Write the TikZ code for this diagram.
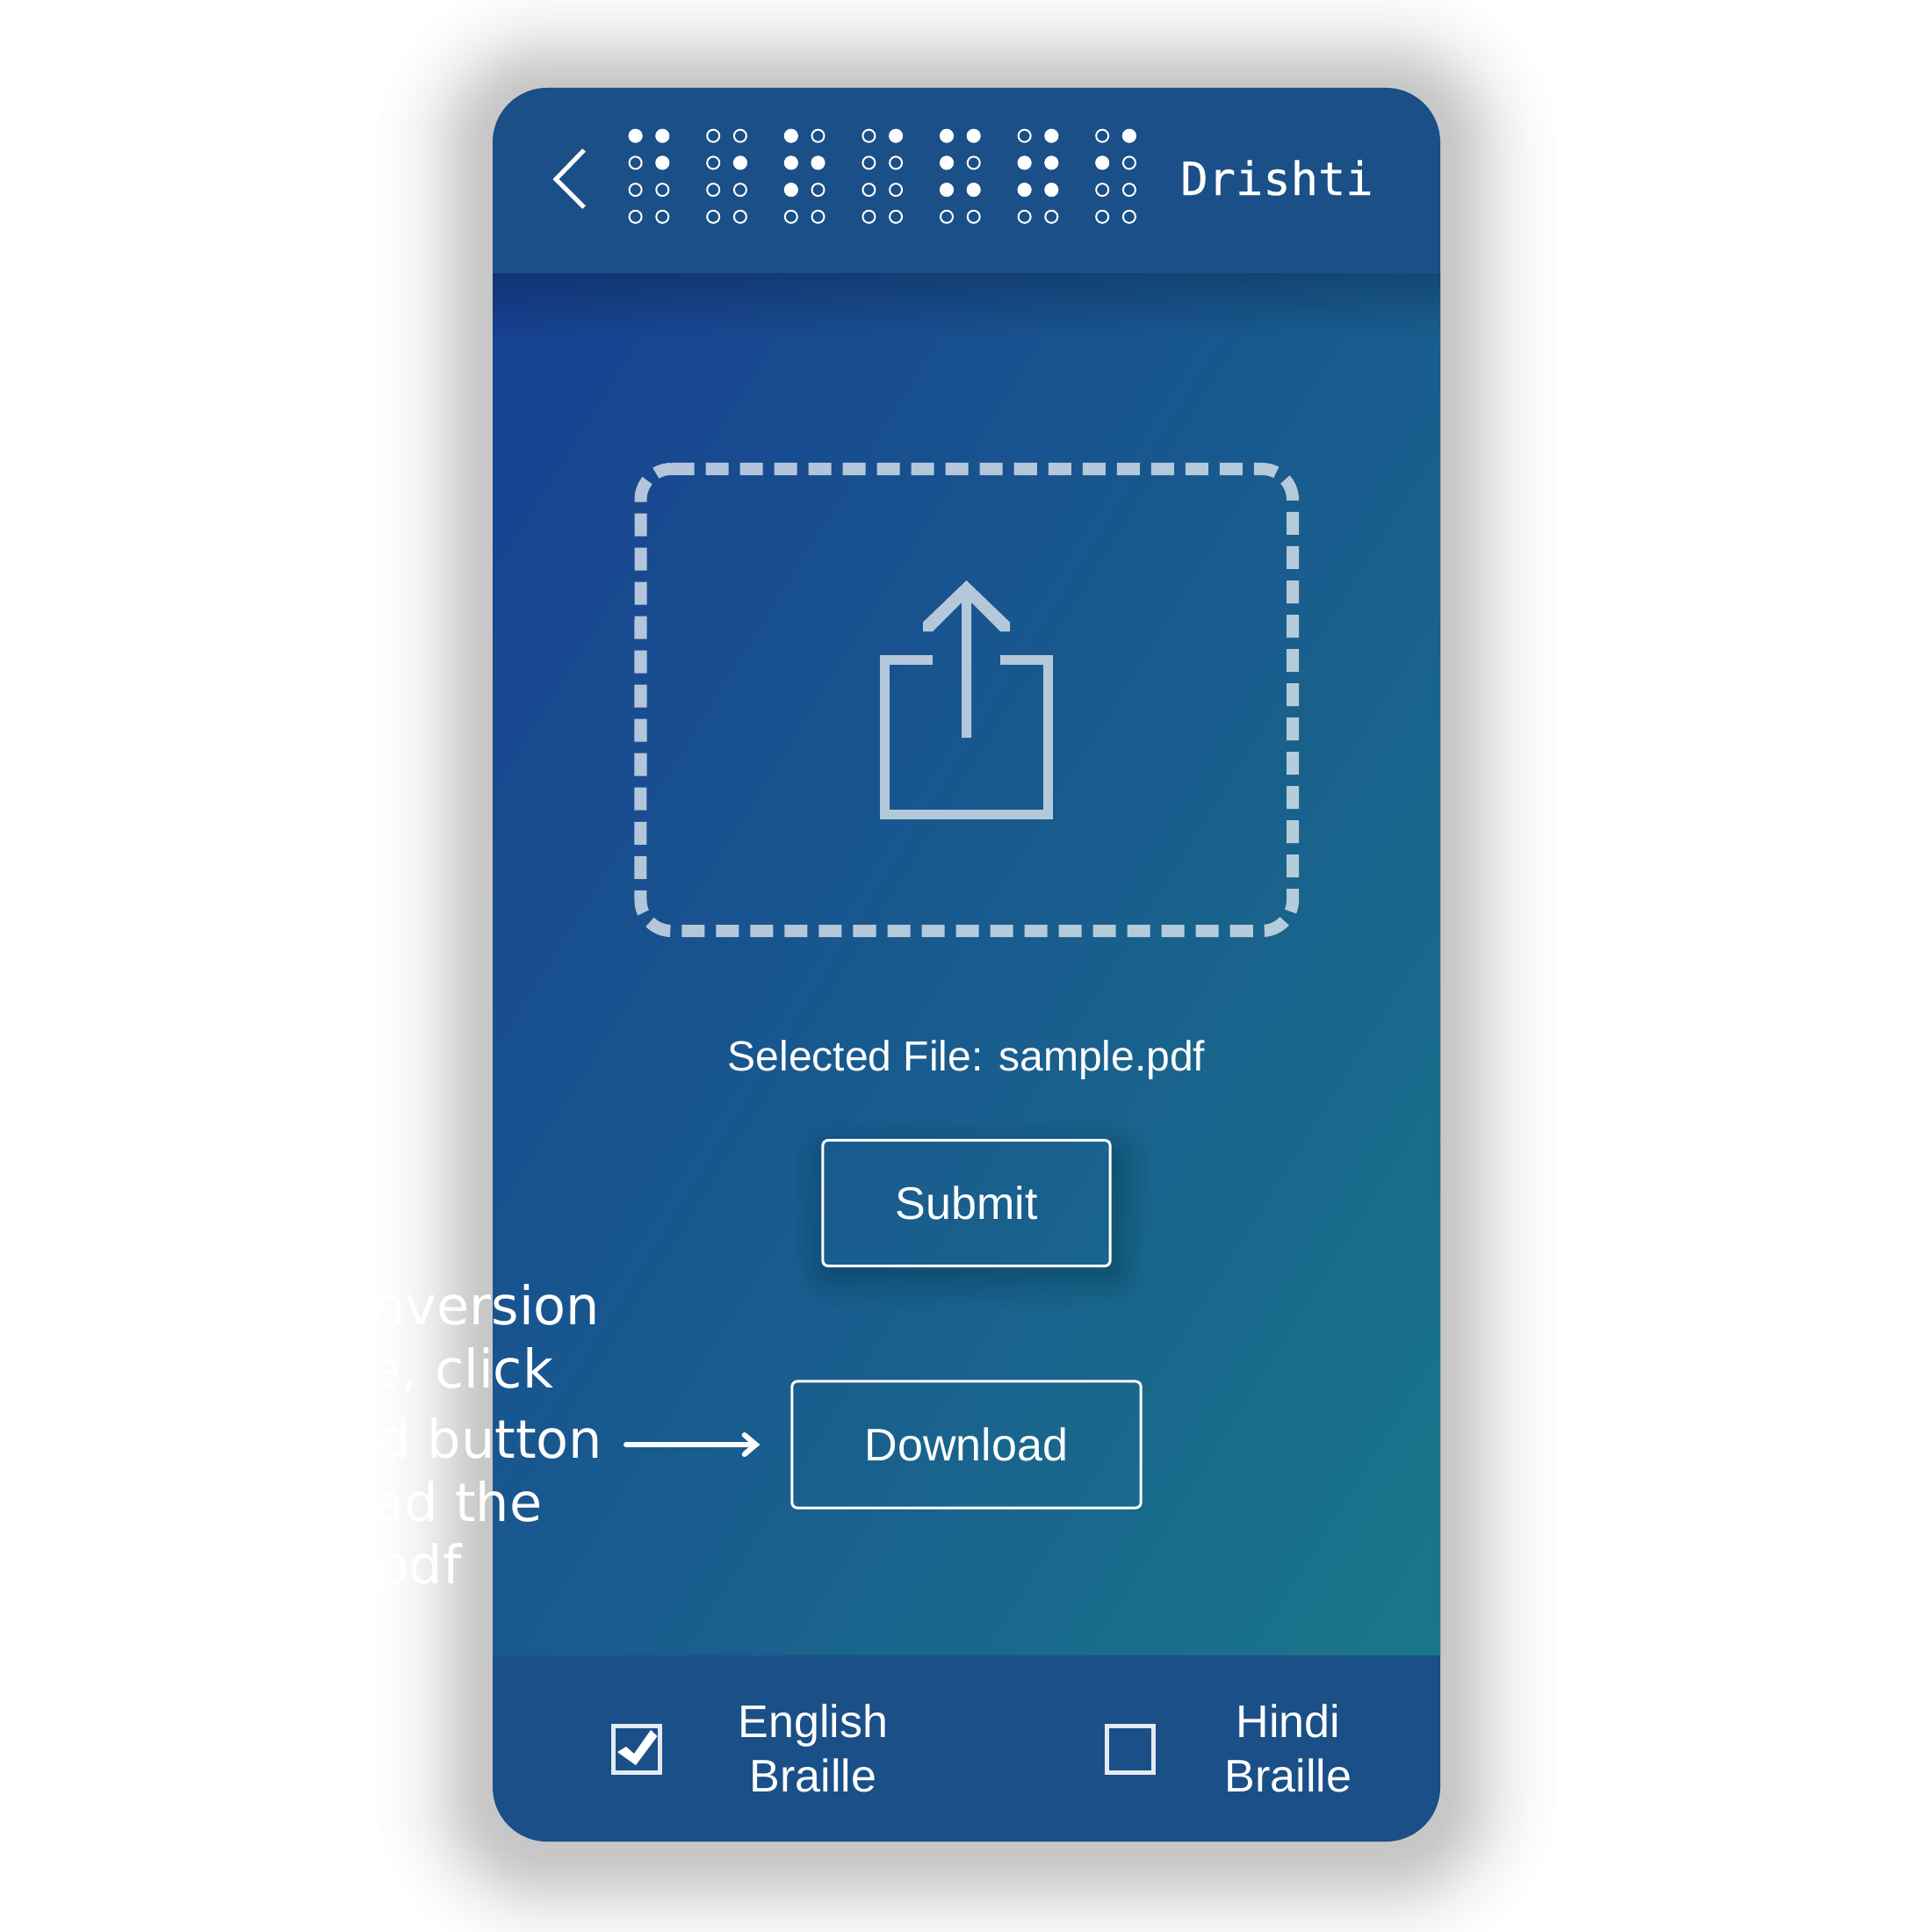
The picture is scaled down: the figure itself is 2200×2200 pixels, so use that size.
\documentclass[tikz,border=0pt]{standalone}
\usepackage{fontspec}
\setmainfont{Liberation Sans}
\newfontfamily\hintfont{DejaVu Sans}
\newfontfamily\brandfont[FakeBold=0.5]{DejaVu Sans Mono}
\usepackage{xcolor}
\usetikzlibrary{arrows.meta,fadings}
\definecolor{barblue}{HTML}{1A4F88}
\definecolor{gradstart}{HTML}{173A92}
\definecolor{gradend}{HTML}{1A7C8A}
\pgfdeclarehorizontalshading{cardgrad}{100bp}{color(0bp)=(gradstart); color(8bp)=(gradstart); color(92bp)=(gradend); color(100bp)=(gradend)}
\tikzfading[name=fadedown, top color=transparent!0, bottom color=transparent!100]
\tikzset{
	dotfull/.style={circle, fill=white, inner sep=0pt, minimum size=0.155cm},
	dotempty/.style={circle, draw=white, line width=0.02cm, inner sep=0pt, minimum size=0.14cm},
	btnnode/.style={rectangle, draw=white, line width=0.03cm, rounded corners=0.06cm, text=white, font=\fontsize{14.8}{17}\selectfont},
	footlabel/.style={align=center, text=white, inner sep=0pt, font=\fontsize{14.8}{17.6}\selectfont},
	hintlabel/.style={anchor=base east, inner sep=0pt, text=white, font=\hintfont\fontsize{17.2}{20}\selectfont},
	ticknode/.style={rectangle, draw=white!88!barblue, line width=0.05cm, minimum width=0.53cm, minimum height=0.53cm},
	iconline/.style={white, opacity=0.68, line width=0.11cm}
}
\begin{document}
\begin{tikzpicture}[x=0.01cm, y=-0.01cm]
		\useasboundingbox (0,0) rectangle (2200,2200);
		
		%Card shadow
		\foreach \d in {132,129,...,0}{
			\pgfmathsetmacro\pct{22*exp(-(\d/70)^2)}
			\pgfmathsetmacro\rad{(62+\d)*0.01}
			\fill[black!\pct!white, rounded corners=\rad cm] (561-\d,108-\d) rectangle (1640+\d,2105+\d);
		}
		
		%Card
		\fill[barblue, rounded corners=0.62cm] (561,100) rectangle (1640,2097);
		\shade[shading=cardgrad, shading angle=-32] (561,311) rectangle (1640,1884);
		\fill[black, opacity=0.2, path fading=fadedown] (561,311) rectangle (1640,381);
		
		%Back icon
		\draw[white, line width=0.05cm] (665,171) -- (633,204) -- (665,236);
		
		%Dots
		\foreach \cell in {0,...,6}{
			\foreach \col in {0,1}{
				\foreach \row in {0,...,3}{
					\node[dotempty] (e\cell\col\row) at (723.6+88.6*\cell+30.7*\col,154.7+30.7*\row) {};
				}
			}
		}
		\foreach \cell/\marks in {0/{0/0,1/0,1/1},1/{1/1},2/{0/0,0/1,1/1,0/2},3/{1/0},4/{0/0,1/0,0/1,0/2,1/2},5/{1/0,0/1,1/1,0/2,1/2},6/{1/0,0/1}}{
			\foreach \col/\row in \marks{
				\node[dotfull] (f\cell\col\row) at (723.6+88.6*\cell+30.7*\col,154.7+30.7*\row) {};
			}
		}
		\node[anchor=base, inner sep=0pt, text=white, font=\brandfont\fontsize{14.8}{17}\selectfont] (title) at (1454,222) {Drishti};
		
		%Upload box
		\draw[white, opacity=0.68, line width=0.14cm, dash pattern=on 0.26cm off 0.13cm] (764.5,534) -- (1437,534) arc[start angle=90, end angle=0, radius=0.35cm] -- (1472,1025) arc[start angle=0, end angle=-90, radius=0.35cm] -- (764.5,1060) arc[start angle=-90, end angle=-180, radius=0.35cm] -- (729.5,569) arc[start angle=180, end angle=90, radius=0.35cm];
		\draw[iconline] (1062,751.5) -- (1007,751.5) -- (1007,927.5) -- (1193.5,927.5) -- (1193.5,751.5) -- (1139,751.5);
		\fill[white, opacity=0.68] (1100.5,661) -- (1150,708.6) -- (1150,719) -- (1139,719) -- (1106,686) -- (1106,840) -- (1095,840) -- (1095,686) -- (1062,719) -- (1051,719) -- (1051,708.6) -- cycle;
		
		\node[inner sep=0pt, text=white, font=\fontsize{13.66}{16}\selectfont] (selected) at (1100.5,1207) {Selected File: sample.pdf};
		
		%Submit shadow
		\begin{scope}
			\clip (0,0) rectangle (2200,2200) (1264,1298.5) rectangle (937,1441.5);
			\foreach \i in {1,...,8}{
				\pgfmathsetmacro\grow{38*(\i/8)^1.3}
				\pgfmathsetmacro\rad{(6+\grow)*0.01}
				\fill[black, opacity=0.02, rounded corners=\rad cm] (945-\grow,1315-\grow) rectangle (1270+\grow,1450+\grow);
			}
		\end{scope}
		
		\node[btnnode, minimum width=3.27cm, minimum height=1.43cm] (submit) at (1100.5,1370) {Submit};
		\node[btnnode, minimum width=3.97cm, minimum height=1.44cm] (download) at (1100.5,1645) {Download};
		
		%Hint
		\node[hintlabel] (h1) at (684,1508) {nversion};
		\node[hintlabel] (h2) at (631,1580) {e, click};
		\node[hintlabel] (h3) at (687,1660) {d button};
		\node[hintlabel] (h4) at (618,1732) {ad the};
		\node[hintlabel] (h5) at (526,1803) {pdf};
		\coordinate (arrowstart) at (713,1645);
		\draw[-{Straight Barb[length=0.13cm, width=0.22cm, line cap=round]}, white, line width=0.06cm, line cap=round, shorten >=0.35cm] (arrowstart) -- (download.west);
		
		%Footer
		\node[ticknode] (english) at (725,1992) {};
		\fill[white] (703,1995) -- (713,1989) -- (722,1997) -- (741,1970) -- (748.5,1977) -- (724,2010) -- cycle;
		\node[ticknode] (hindi) at (1287,1992) {};
		\node[footlabel] (englishlabel) at (926,1991) {English\\Braille};
		\node[footlabel] (hindilabel) at (1467,1991) {Hindi\\Braille};
		
	\end{tikzpicture}
\end{document}
